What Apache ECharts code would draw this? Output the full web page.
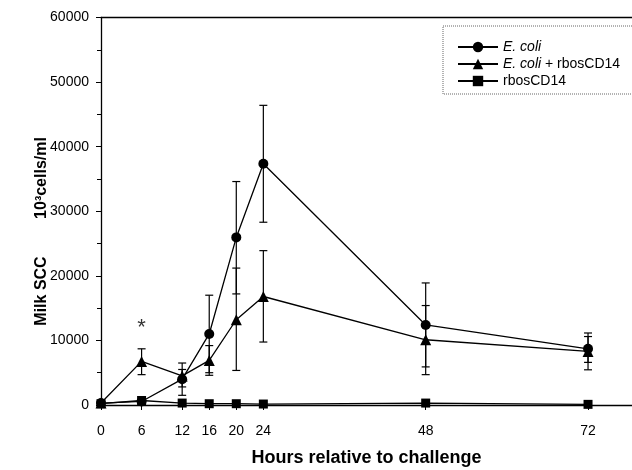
<!DOCTYPE html>
<html>
<head>
<meta charset="utf-8">
<script src="https://cdn.jsdelivr.net/npm/echarts@6/dist/echarts.min.js"></script>
<style>html,body{margin:0;padding:0;background:#fff}#c{width:632px;height:470px}</style>
</head>
<body>
<div id="c"></div>
<script>
const hours = [0, 6, 12, 16, 20, 24, 48, 72];
const xTicks = [0, 6, 12, 16, 20, 24, 48, 72];
const yTicks = [0, 10000, 20000, 30000, 40000, 50000, 60000];

const ecoli     = [300, 550, 4000, 11000, 25950, 37350, 12400, 8700];
const ecoliLow  = [null, null, 1500, 5000, 17200, 28300, 5900, 6600];
const ecoliHigh = [null, null, 6500, 17000, 34600, 46400, 18900, 11150];

const combo     = [300, 6750, 4500, 6900, 13200, 16800, 10100, 8300];
const comboLow  = [null, 4700, 2800, 4600, 5350, 9750, 4700, 5450];
const comboHigh = [null, 8700, 5500, 9200, 21200, 23900, 15400, 10600];

const rbos      = [200, 700, 300, 200, 200, 150, 300, 100];

const seriesNames = ['E. coli', 'E. coli + rbosCD14', 'rbosCD14'];
const asterisk = { x: 6, y: 12700, text: '*' };

const FONT = 'Liberation Sans, Arial, sans-serif';

function pairs(xs, ys) { return xs.map((x, i) => [x, ys[i]]); }
function errData(xs, lo, hi) {
  const out = [];
  xs.forEach((x, i) => { if (lo[i] != null && hi[i] != null) out.push([x, lo[i], hi[i]]); });
  return out;
}
function errSeries(data) {
  return {
    type: 'custom',
    silent: true,
    z: 1,
    data: data,
    encode: { x: 0, y: [1, 2] },
    renderItem: function (params, api) {
      const x = api.value(0);
      const lo = api.coord([x, api.value(1)]);
      const hi = api.coord([x, api.value(2)]);
      const w = 4;
      const st = { stroke: '#000', lineWidth: 1.2 };
      return {
        type: 'group',
        children: [
          { type: 'line', shape: { x1: lo[0], y1: lo[1], x2: hi[0], y2: hi[1] }, style: st },
          { type: 'line', shape: { x1: hi[0] - w, y1: hi[1], x2: hi[0] + w, y2: hi[1] }, style: st },
          { type: 'line', shape: { x1: lo[0] - w, y1: lo[1], x2: lo[0] + w, y2: lo[1] }, style: st }
        ]
      };
    }
  };
}

const chart = echarts.init(document.getElementById('c'), null, { renderer: 'canvas' });
const lineStyle = { color: '#000', width: 1.3 };

chart.setOption({
  animation: false,
  backgroundColor: '#fff',
  textStyle: { fontFamily: FONT, color: '#000' },
  grid: { left: 101, right: 0, top: 17.5, bottom: 65, containLabel: false, outerBoundsMode: 'none' },
  legend: {
    orient: 'vertical',
    left: 452,
    top: 35,
    itemWidth: 40,
    itemHeight: 13,
    itemGap: 3,
    data: seriesNames,
    textStyle: {
      fontFamily: FONT, fontSize: 14, color: '#000',
      rich: { i: { fontStyle: 'italic', fontFamily: FONT, fontSize: 14, color: '#000' } }
    },
    formatter: function (name) {
      if (name === 'E. coli') return '{i|E. coli}';
      if (name === 'E. coli + rbosCD14') return '{i|E. coli} + rbosCD14';
      return name;
    }
  },
  graphic: [
    {
      type: 'rect', silent: true, z: 0,
      shape: { x: 443, y: 26, width: 200, height: 68 },
      style: { fill: 'none', stroke: '#666', lineWidth: 1, lineDash: [1, 1] }
    },
    {
      type: 'text', silent: true,
      x: 42, y: 291, rotation: Math.PI / 2,
      style: {
        text: 'Milk SCC',
        font: 'bold 16px ' + FONT, fill: '#000',
        align: 'center', verticalAlign: 'middle'
      }
    },
    {
      type: 'text', silent: true,
      x: 42, y: 178, rotation: Math.PI / 2,
      style: {
        text: '10³cells/ml',
        font: 'bold 16px ' + FONT, fill: '#000',
        align: 'center', verticalAlign: 'middle'
      }
    }
  ],
  xAxis: [
    {
      type: 'value', min: 0, max: 78.5,
      name: 'Hours relative to challenge',
      nameLocation: 'middle', nameGap: 44,
      nameTextStyle: { fontFamily: FONT, fontSize: 18, fontWeight: 'bold', color: '#000' },
      axisLine: { show: true, onZero: false, lineStyle: { color: '#000', width: 1.3 } },
      axisTick: { show: true, length: 5, inside: false, customValues: xTicks, lineStyle: { color: '#000' } },
      axisLabel: { show: true, customValues: xTicks, margin: 19, fontSize: 14, fontFamily: FONT, color: '#000' },
      splitLine: { show: false }
    },
    {
      type: 'value', min: 0, max: 78.5, position: 'top',
      axisLine: { show: true, onZero: false, lineStyle: { color: '#000', width: 1.3 } },
      axisTick: { show: false }, axisLabel: { show: false }, splitLine: { show: false }
    }
  ],
  yAxis: {
    type: 'value', min: 0, max: 60000, interval: 10000,
    axisLine: { show: true, onZero: false, lineStyle: { color: '#000', width: 1.3 } },
    axisTick: { show: true, length: 5, inside: false, lineStyle: { color: '#000' } },
    minorTick: { show: true, splitNumber: 2, length: 4, lineStyle: { color: '#000' } },
    axisLabel: { margin: 12, fontSize: 14, fontFamily: FONT, color: '#000',
      customValues: yTicks, formatter: function (v) { return String(v); } },
    splitLine: { show: false }
  },
  series: [
    errSeries(errData(hours, ecoliLow, ecoliHigh)),
    errSeries(errData(hours, comboLow, comboHigh)),
    {
      name: seriesNames[0], type: 'line', data: pairs(hours, ecoli), z: 3,
      symbol: 'circle', symbolSize: 10, lineStyle: lineStyle,
      itemStyle: { color: '#000' }, color: '#000'
    },
    {
      name: seriesNames[1], type: 'line', data: pairs(hours, combo), z: 3,
      symbol: 'triangle', symbolSize: 11, lineStyle: lineStyle,
      itemStyle: { color: '#000' }, color: '#000'
    },
    {
      name: seriesNames[2], type: 'line', data: pairs(hours, rbos), z: 3,
      symbol: 'rect', symbolSize: 9, lineStyle: lineStyle,
      itemStyle: { color: '#000' }, color: '#000'
    },
    {
      type: 'scatter', silent: true, symbolSize: 1, itemStyle: { color: 'rgba(0,0,0,0)' },
      data: [[asterisk.x, asterisk.y]],
      label: { show: true, position: 'inside', formatter: asterisk.text,
        fontSize: 22, fontFamily: FONT, color: '#000', offset: [0, 5] }
    }
  ]
});
</script>
</body>
</html>
